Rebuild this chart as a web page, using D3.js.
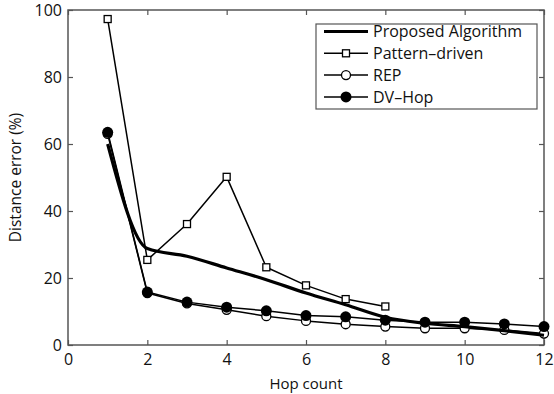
<!DOCTYPE html>
<html>
<head>
<meta charset="utf-8">
<script src="https://cdn.jsdelivr.net/npm/d3@7"></script>
<style>
  body { margin: 0; background: #fff; }
  svg { display: block; font-family: 'Open Sans', sans-serif; }
</style>
</head>
<body>
<div id="chart"></div>
<script>
const hops = [1, 2, 3, 4, 5, 6, 7, 8, 9, 10, 11, 12];
const proposed = [60, 28.8, 26.5, 23, 19.5, 15.5, 12, 8.3, 6.5, 5.5, 4.3, 2.9];
const patternHops = [1, 2, 3, 4, 5, 6, 7, 8];
const pattern = [97.3, 25.4, 36.1, 50.2, 23.2, 17.8, 13.7, 11.5];
const rep = [63, 15.5, 12.4, 10.5, 8.6, 7.2, 6.2, 5.5, 5, 5, 4.5, 3.4];
const dvhop = [63.5, 15.8, 12.8, 11.3, 10.2, 8.8, 8.4, 7.4, 6.8, 6.8, 6.3, 5.5];
const xTicks = [0, 2, 4, 6, 8, 10, 12];
const yTicks = [0, 20, 40, 60, 80, 100];
const legendNames = ['Proposed Algorithm', 'Pattern\u2013driven', 'REP', 'DV\u2013Hop'];

const width = 554, height = 394,
    margin = {left: 68, top: 10, right: 10, bottom: 49};

const svg = d3.select('#chart').append('svg')
    .attr('width', width)
    .attr('height', height);

const x = d3.scaleLinear().domain([0, 12]).range([margin.left, width - margin.right]);
const y = d3.scaleLinear().domain([0, 100]).range([height - margin.bottom, margin.top]);

const axisColor = '#555';
const tickLen = 5;

// box axes with inward ticks, like matlab
const axes = svg.append('g');
axes.append('rect')
    .attr('x', x(0)).attr('y', y(100))
    .attr('width', x(12) - x(0)).attr('height', y(0) - y(100))
    .attr('fill', 'none').attr('stroke', axisColor).attr('stroke-width', 1.5);

axes.append('g')
    .attr('transform', `translate(0, ${y(0)})`)
    .call(d3.axisBottom(x).tickValues(xTicks).tickSize(-tickLen).tickPadding(9))
    .call(g => g.select('.domain').remove());
axes.append('g')
    .attr('transform', `translate(0, ${y(100)})`)
    .call(d3.axisTop(x).tickValues(xTicks).tickSize(-tickLen).tickFormat(''))
    .call(g => g.select('.domain').remove());
axes.append('g')
    .attr('transform', `translate(${x(0)}, 0)`)
    .call(d3.axisLeft(y).tickValues(yTicks).tickSize(-tickLen).tickPadding(6))
    .call(g => g.select('.domain').remove());
axes.append('g')
    .attr('transform', `translate(${x(12)}, 0)`)
    .call(d3.axisRight(y).tickValues(yTicks).tickSize(-tickLen).tickFormat(''))
    .call(g => g.select('.domain').remove());

axes.selectAll('.tick line').attr('stroke', axisColor).attr('stroke-width', 1.2);
axes.selectAll('.tick text')
    .attr('fill', '#111')
    .style('font-size', '16px')
    .style('font-family', "'Open Sans', sans-serif");

svg.append('text')
    .attr('x', (x(0) + x(12)) / 2)
    .attr('y', 389)
    .attr('text-anchor', 'middle')
    .style('font-size', '15px')
    .attr('fill', '#111')
    .text('Hop count');

svg.append('text')
    .attr('transform', `translate(21, ${(y(0) + y(100)) / 2}) rotate(-90)`)
    .attr('text-anchor', 'middle')
    .style('font-size', '15.5px')
    .attr('fill', '#111')
    .text('Distance error (%)');

const line = d3.line().x(d => x(d[0])).y(d => y(d[1]));
const smooth = d3.line().x(d => x(d[0])).y(d => y(d[1])).curve(d3.curveMonotoneX);

const plot = svg.append('g');

function drawSeries(xs, ys, width, marker, gen) {
    const pts = xs.map((h, i) => [h, ys[i]]);
    plot.append('path')
        .datum(pts)
        .attr('d', gen || line)
        .attr('fill', 'none')
        .attr('stroke', '#000')
        .attr('stroke-width', width)
        .attr('stroke-linejoin', 'round');
    if (marker) plot.append('g').selectAll('.m').data(pts).join(marker);
}

function square(sel) {
    sel.append('rect')
        .attr('x', d => x(d[0]) - 3.5).attr('y', d => y(d[1]) - 3.5)
        .attr('width', 7).attr('height', 7)
        .attr('fill', '#fff').attr('stroke', '#000').attr('stroke-width', 1.3);
}
function openCircle(sel) {
    sel.append('circle')
        .attr('cx', d => x(d[0])).attr('cy', d => y(d[1])).attr('r', 4.5)
        .attr('fill', '#fff').attr('stroke', '#000').attr('stroke-width', 1.3);
}
function dot(sel) {
    sel.append('circle')
        .attr('cx', d => x(d[0])).attr('cy', d => y(d[1])).attr('r', 5.5)
        .attr('fill', '#000');
}

drawSeries(hops, rep, 1.5, openCircle);
drawSeries(hops, dvhop, 1.5, dot);
drawSeries(patternHops, pattern, 1.5, square);
drawSeries(hops, proposed, 3.2, null, smooth);

// legend
const legend = svg.append('g');
const lx = 316, ly = 24, lw = 221, lh = 85;
legend.append('rect')
    .attr('x', lx).attr('y', ly).attr('width', lw).attr('height', lh)
    .attr('fill', '#fff').attr('stroke', axisColor).attr('stroke-width', 1.2);

const markers = [null, square, openCircle, dot];
legendNames.forEach((name, i) => {
    const cy = 31.5 + i * 21.8;
    legend.append('line')
        .attr('x1', 324).attr('x2', 368).attr('y1', cy).attr('y2', cy)
        .attr('stroke', '#000').attr('stroke-width', i === 0 ? 3.2 : 1.5);
    if (markers[i]) {
        const g = legend.append('g');
        const pt = [x.invert(346), y.invert(cy)];
        g.selectAll('.m').data([pt]).join(markers[i]);
    }
    legend.append('text')
        .attr('x', 373).attr('y', cy)
        .attr('dy', '0.36em')
        .style('font-size', '16px')
        .attr('fill', '#111')
        .text(name);
});
</script>
</body>
</html>
